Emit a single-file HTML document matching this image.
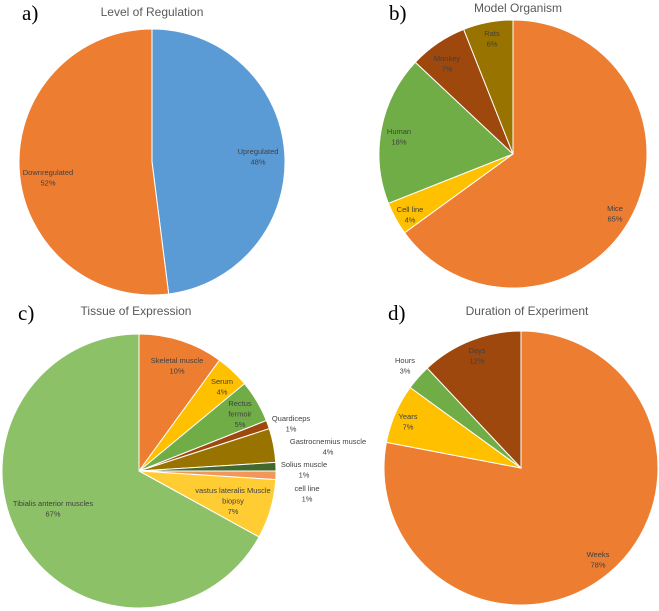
<!DOCTYPE html>
<html><head><meta charset="utf-8"><style>
body{margin:0;background:#fff;}
svg{display:block;font-family:"Liberation Sans",sans-serif;}
.t{font-size:12px;fill:#595959;text-anchor:middle;}
.p{font-family:"Liberation Serif",serif;font-size:21px;fill:#000;}
.l{font-size:7.5px;fill:#404040;text-anchor:middle;}
</style></head><body>
<svg id="c" width="659" height="611">
<text class="p" x="22" y="20">a)</text>
<text class="t" x="152" y="16">Level of Regulation</text>
<text class="p" x="389" y="20">b)</text>
<text class="t" x="518" y="12">Model Organism</text>
<text class="p" x="18" y="320">c)</text>
<text class="t" x="136" y="315">Tissue of Expression</text>
<text class="p" x="388" y="320">d)</text>
<text class="t" x="527" y="315">Duration of Experiment</text>
<g id="pies"></g>
<g id="labels"></g>
</svg>
<script>
const regCats=["Upregulated","Downregulated"];
const regVals=[48,52];
const orgCats=["Mice","Cell line","Human","Monkey","Rats"];
const orgVals=[65,4,18,7,6];
const tisCats=["Skeletal muscle","Serum","Rectus fermoir","Quardiceps","Gastrocnemius muscle","Solius muscle","cell line","vastus lateralis Muscle biopsy","Tibialis anterior muscles"];
const tisVals=[10,4,5,1,4,1,1,7,67];
const durCats=["Weeks","Years","Hours","Days"];
const durVals=[78,7,3,12];

const NS="http://www.w3.org/2000/svg";
const pies=document.getElementById('pies');
const labels=document.getElementById('labels');
function drawPie(name,cats,vals,colors,cx,cy,r,labelPos){
  const tot=vals.reduce((a,b)=>a+b,0);
  let a0=0;
  vals.forEach((v,i)=>{
    const a1=a0+v/tot*2*Math.PI;
    const x0=cx+r*Math.sin(a0),y0=cy-r*Math.cos(a0);
    const x1=cx+r*Math.sin(a1),y1=cy-r*Math.cos(a1);
    const large=(a1-a0)>Math.PI?1:0;
    const p=document.createElementNS(NS,'path');
    p.setAttribute('d',`M${cx},${cy}L${x0},${y0}A${r},${r} 0 ${large} 1 ${x1},${y1}Z`);
    p.setAttribute('fill',colors[i]);
    p.setAttribute('stroke','#fff');
    p.setAttribute('stroke-width','1');
    
    
    pies.appendChild(p);
    const lp=labelPos[i];
    const lines=lp[2].concat([Math.round(v/tot*100)+'%']);
    lines.forEach((s,k)=>{
      const t=document.createElementNS(NS,'text');
      t.setAttribute('class','l');
      t.setAttribute('x',lp[0]);
      t.setAttribute('y',lp[1]+k*10.5);
      t.textContent=s;
      
      
      labels.appendChild(t);
    });
    a0=a1;
  });
}
drawPie('regulation',regCats,regVals,['#5B9BD5','#ED7D31'],152,162,133,
  [[258,154,['Upregulated']],[48,175,['Downregulated']]]);
drawPie('organism',orgCats,orgVals,['#ED7D31','#FFC000','#70AD47','#9E480E','#997300'],513,154,134,
  [[615,211,['Mice']],[410,212,['Cell line']],[399,134,['Human']],[447,61,['Monkey']],[492,36,['Rats']]]);
drawPie('tissue',tisCats,tisVals,['#ED7D31','#FFC000','#70AD47','#9E480E','#997300','#43682B','#F1975A','#FFCD33','#8CC168'],139,471,137,
  [[177,363,['Skeletal muscle']],[222,384,['Serum']],[240,406,['Rectus','fermoir']],[291,421,['Quardiceps']],[328,444,['Gastrocnemius muscle']],[304,467,['Solius muscle']],[307,491,['cell line']],[233,493,['vastus lateralis Muscle','biopsy']],[53,506,['Tibialis anterior muscles']]]);
drawPie('duration',durCats,durVals,['#ED7D31','#FFC000','#70AD47','#9E480E'],521,468,137,
  [[598,557,['Weeks']],[408,419,['Years']],[405,363,['Hours']],[477,353,['Days']]]);
</script>
</body></html>
